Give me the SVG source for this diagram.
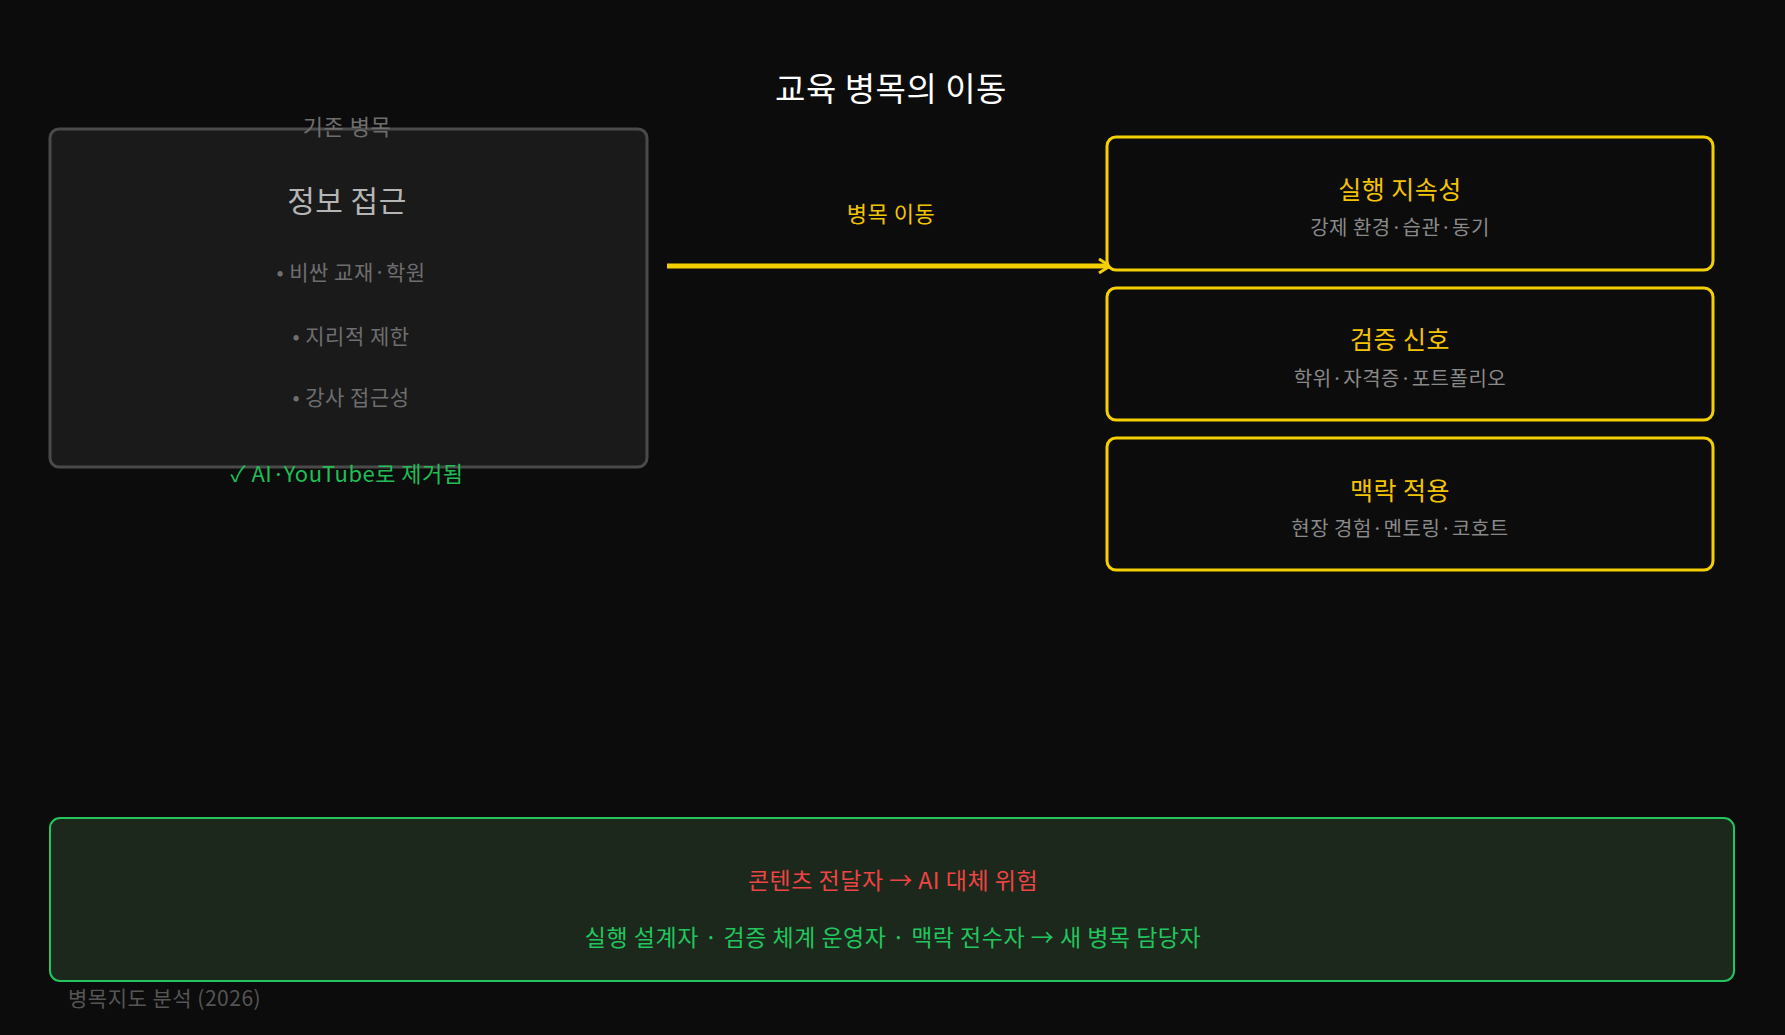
<svg xmlns="http://www.w3.org/2000/svg" width="1785" height="1035" viewBox="0 0 1785 1035">
<style>
text{font-family:"Noto Sans CJK KR","Noto Sans",sans-serif;text-anchor:middle;dominant-baseline:middle;letter-spacing:0.5px}
.rb{fill:#0c0c0c;stroke:#f5d000;stroke-width:3}
.rt{fill:#f5c400;font-size:25px}
.rs{fill:#8a8a8a;font-size:20px}
.bl{fill:#6e6e6e;font-size:21px}
</style>
<defs><marker id="ah" viewBox="0 0 16 16" refX="13" refY="8" markerWidth="16" markerHeight="16" markerUnits="userSpaceOnUse" orient="auto"><path d="M2 1L13 8L2 15" fill="none" stroke="#f5d000" stroke-width="3"/></marker></defs>
<rect width="1785" height="1035" fill="#0c0c0c"/>
<text x="891" y="92" fill="#ffffff" font-size="33">교육 병목의 이동</text>
<g id="old">
<rect x="50" y="129" width="597" height="338" rx="9" fill="#1a1a1a" stroke="#4a4a4a" stroke-width="3"/>
<text x="347" y="129" fill="#6e6e6e" font-size="22">기존 병목</text>
<text x="347" y="204" fill="#b5b5b5" font-size="30">정보 접근</text>
<text x="351" y="274" class="bl">• 비싼 교재·학원</text>
<text x="351" y="338" class="bl">• 지리적 제한</text>
<text x="351" y="399" class="bl">• 강사 접근성</text>
<text x="347" y="476" fill="#1fbf55" font-size="22">✓ AI·YouTube로 제거됨</text>
</g>
<g id="connectors">
<line x1="667" y1="266" x2="1110" y2="266" stroke="#f5d000" stroke-width="5" marker-end="url(#ah)"/>
<text x="891" y="216" fill="#f5c400" font-size="22">병목 이동</text>
</g>
<g id="n1"><rect class="rb" x="1107" y="137" width="606" height="133" rx="9"/><text class="rt" x="1400" y="192">실행 지속성</text><text class="rs" x="1400" y="230">강제 환경·습관·동기</text></g>
<g id="n2"><rect class="rb" x="1107" y="288" width="606" height="132" rx="9"/><text class="rt" x="1400" y="342">검증 신호</text><text class="rs" x="1400" y="381">학위·자격증·포트폴리오</text></g>
<g id="n3"><rect class="rb" x="1107" y="438" width="606" height="132" rx="9"/><text class="rt" x="1400" y="493">맥락 적용</text><text class="rs" x="1400" y="531">현장 경험·멘토링·코호트</text></g>
<g id="bottom">
<rect x="50" y="818" width="1684" height="163" rx="10" fill="#1b281b" stroke="#22c55e" stroke-width="2"/>
<text x="893" y="883" fill="#ef4444" font-size="23">콘텐츠 전달자 → AI 대체 위험</text>
<text x="893" y="940" fill="#22c55e" font-size="23">실행 설계자 · 검증 체계 운영자 · 맥락 전수자 → 새 병목 담당자</text>
</g>
<text x="68" y="1000" fill="#555555" font-size="21" style="text-anchor:start">병목지도 분석 (2026)</text>
</svg>
